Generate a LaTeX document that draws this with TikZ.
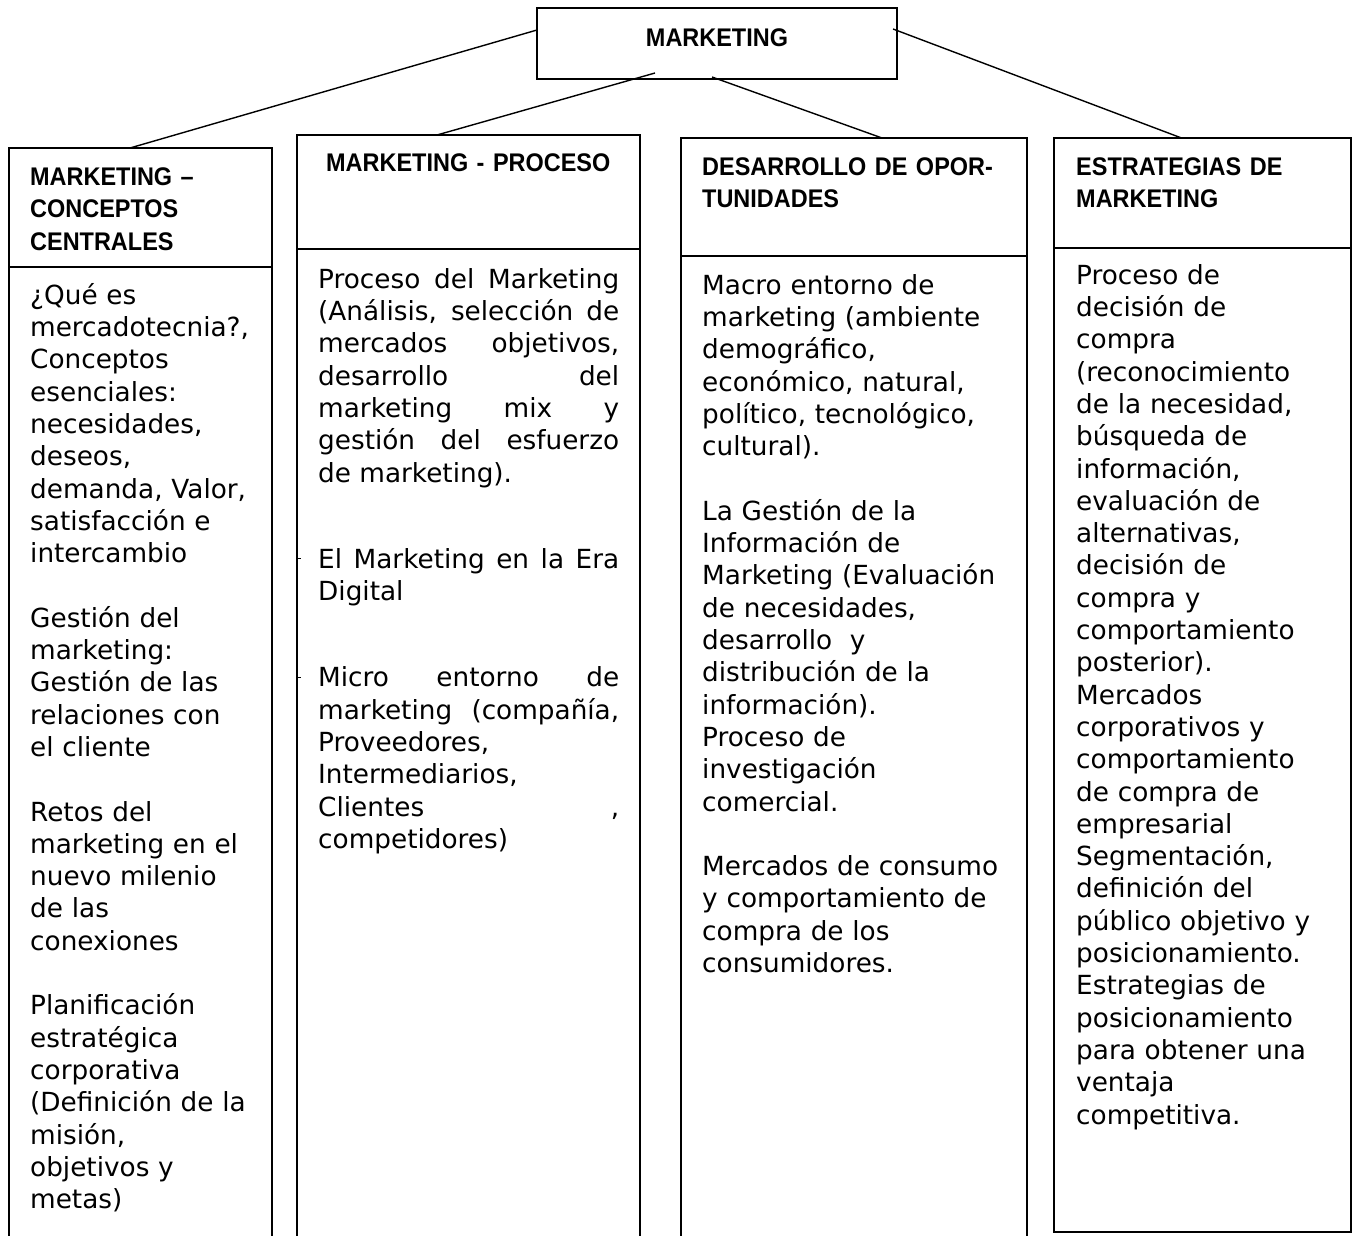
\documentclass[tikz,border=0pt]{standalone}
\usepackage{fontspec}
\setmainfont{DejaVu Sans}
\newfontfamily\headfont[FakeStretch=0.92]{Liberation Sans}
\usetikzlibrary{positioning}

\tikzset{
  box/.style={draw, line width=1.7pt, inner sep=0pt, outer sep=0pt, anchor=north west},
  headtext/.style={anchor=north west, inner sep=0pt, align=left, text width=#1,
    font=\headfont\bfseries\fontsize{25.5}{32.5}\selectfont},
  bodytext/.style={anchor=north west, inner sep=0pt, align=left, text width=#1,
    font=\fontsize{26.3}{32.3}\selectfont},
  link/.style={line width=1.4pt}
}

\begin{document}
\begin{tikzpicture}[x=1pt, y=-1pt]
\clip (0,0) rectangle (1352,1236);

% Top box
\node[box, minimum width=360pt, minimum height=71pt, text height=18.3pt, text depth=13pt,
  font=\headfont\bfseries\fontsize{25.5}{32.5}\selectfont] at (537,8) (mkt) {MARKETING};

% Column boxes: title part and content part
\node[box, minimum width=263pt, minimum height=119pt] at (9,148) (t1) {};
\node[box, minimum width=263pt, minimum height=1000pt] at (9,267) (c1) {};
\node[box, minimum width=343pt, minimum height=114pt] at (297,135) (t2) {};
\node[box, minimum width=343pt, minimum height=1020pt] at (297,249) (c2) {};
\node[box, minimum width=346pt, minimum height=118pt] at (681,138) (t3) {};
\node[box, minimum width=346pt, minimum height=1010pt] at (681,256) (c3) {};
\node[box, minimum width=297pt, minimum height=110pt] at (1054,138) (t4) {};
\node[box, minimum width=297pt, minimum height=984pt] at (1054,248) (c4) {};

% Titles
\node[headtext=240pt] at ([xshift=21pt, yshift=-14.25pt]t1.north west) (h1)
  {\strut MARKETING –\\CONCEPTOS\\CENTRALES};
\node[headtext=310pt] at ([xshift=29pt, yshift=-13.25pt]t2.north west) (h2)
  {\strut MARKETING - PROCESO};
\node[headtext=320pt] at ([xshift=21pt, yshift=-14.25pt]t3.north west) (h3)
  {\strut DESARROLLO DE OPOR-\\TUNIDADES};
\node[headtext=270pt] at ([xshift=22pt, yshift=-14.25pt]t4.north west) (h4)
  {\strut ESTRATEGIAS DE\\MARKETING};

% Contents
\node[bodytext=240pt] at ([xshift=21pt, yshift=-14.4pt]c1.north west) (b1)
  {\noindent\strut ¿Qué es\\mercadotecnia?,\\Conceptos\\esenciales:\\necesidades,\\deseos,\\demanda, Valor,\\satisfacción e\\intercambio\\[32.3pt]%
   Gestión del\\marketing:\\Gestión de las\\relaciones con\\el cliente\\[32.3pt]%
   Retos del\\marketing en el\\nuevo milenio\\de las\\conexiones\\[32.3pt]%
   Planificación\\estratégica\\corporativa\\(Definición de la\\misión,\\objetivos y\\metas)};
\node[bodytext=301pt, align=justify] at ([xshift=21pt, yshift=-16.4pt]c2.north west) (b2)
  {\noindent\strut Proceso del Marketing\linebreak (Análisis, selección de\linebreak mercados objetivos,\linebreak desarrollo del\linebreak marketing mix y\linebreak gestión del esfuerzo\linebreak de marketing).\\[54pt]%
   El Marketing en la Era\linebreak Digital\\[54pt]%
   Micro entorno de\linebreak marketing (compañía,\linebreak Proveedores,\\Intermediarios,\\Clientes\hfill,\\competidores)};
\node[bodytext=310pt] at ([xshift=21pt, yshift=-15.4pt]c3.north west) (b3)
  {\noindent\strut Macro entorno de\\marketing (ambiente\\demográfico,\\económico, natural,\\político, tecnológico,\\cultural).\\[32.3pt]%
   La Gestión de la\\Información de\\Marketing (Evaluación\\de necesidades,\\desarrollo\ \ y\\distribución de la\\información).\\Proceso de\\investigación\\comercial.\\[32.3pt]%
   Mercados de consumo\\y comportamiento de\\compra de los\\consumidores.};
\node[bodytext=270pt] at ([xshift=22pt, yshift=-13.4pt]c4.north west) (b4)
  {\noindent\strut Proceso de\\decisión de\\compra\\(reconocimiento\\de la necesidad,\\búsqueda de\\información,\\evaluación de\\alternativas,\\decisión de\\compra y\\comportamiento\\posterior).\\Mercados\\corporativos y\\comportamiento\\de compra de\\empresarial\\Segmentación,\\definición del\\público objetivo y\\posicionamiento.\\Estrategias de\\posicionamiento\\para obtener una\\ventaja\\competitiva.};

% Small marks on the left border of column 2
\draw[line width=1pt] (c2.west |- 0,558) -- ++(4,0);
\draw[line width=1pt] (c2.west |- 0,677) -- ++(4,0);

% Connectors
\draw[link] ([yshift=13.5pt]mkt.west) -- ([xshift=-10.5pt]t1.north);
\draw[link] ([xshift=-62pt, yshift=6pt]mkt.south) -- ([xshift=-31.5pt]t2.north);
\draw[link] ([xshift=-5pt, yshift=2pt]mkt.south) -- ([xshift=28pt]t3.north);
\draw[link] ([xshift=-4pt, yshift=14.5pt]mkt.east) -- ([xshift=-21pt]t4.north);
\end{tikzpicture}
\end{document}
